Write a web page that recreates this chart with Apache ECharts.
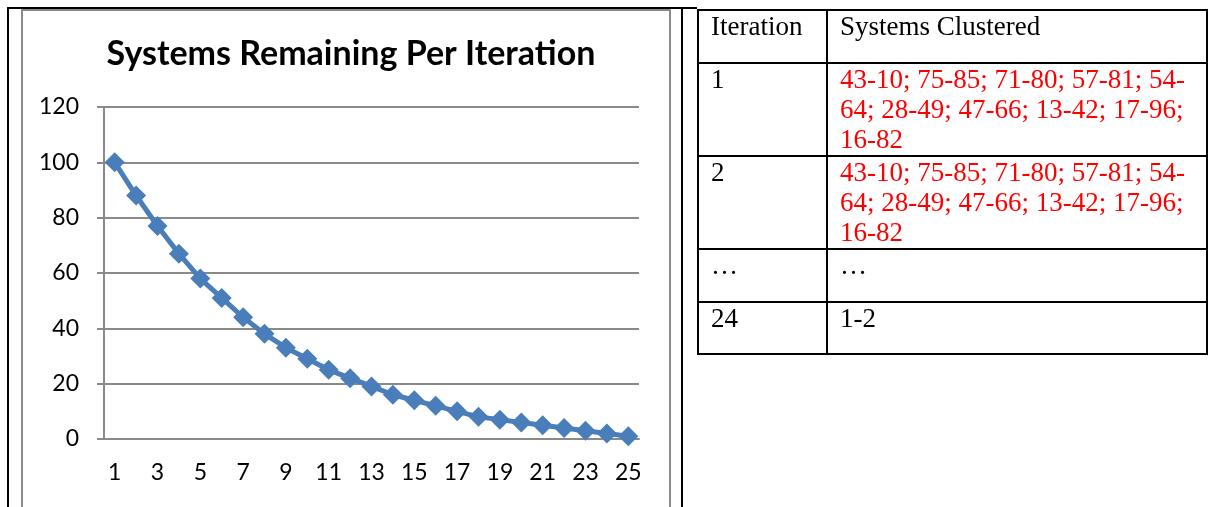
<!DOCTYPE html>
<html>
<head>
<meta charset="utf-8">
<script src="https://cdn.jsdelivr.net/npm/echarts@6/dist/echarts.min.js"></script>
<style>
  html, body { margin: 0; padding: 0; background: #fff; }
  #page { position: relative; width: 1209px; height: 507px; overflow: hidden; }
  #chart { position: absolute; left: 0; top: 0; width: 1209px; height: 507px; }
  .frame { position: absolute; background: #000; }
  #chartBox { position: absolute; left: 21px; top: 9px; width: 646px; height: 510px; border: 2px solid #8a8a8a; }
  #tbl { position: absolute; left: 697px; top: 9px; border-collapse: collapse;
         font-family: "Liberation Serif", "Times New Roman", serif; font-size: 27px; line-height: 30px; }
  #tbl td { border: 2px solid #000; vertical-align: top; padding: 0 0 0 12px; white-space: nowrap; }
  #tbl .c1 { width: 115px; }
  #tbl .c2 { width: 366px; }
  .red { color: #ff0000; }
</style>
</head>
<body>
<div id="page">
  <div class="frame" style="left:7px;top:7px;width:2px;height:500px"></div>
  <div class="frame" style="left:7px;top:7px;width:690px;height:2px"></div>
  <div class="frame" style="left:681px;top:7px;width:2px;height:500px"></div>
  <div id="chartBox"></div>
  <div id="chart"></div>
  <table id="tbl"></table>
</div>
<script>
// chart data
const iterations = ['1','2','3','4','5','6','7','8','9','10','11','12','13',
  '14','15','16','17','18','19','20','21','22','23','24','25'];
const systemsRemaining = [100, 88, 77, 67, 58, 51, 44, 38, 33, 29, 25, 22, 19,
  16, 14, 12, 10, 8, 7, 6, 5, 4, 3, 2, 1];
const yTicks = [0, 20, 40, 60, 80, 100, 120];

// table data
const tableHeader = ['Iteration', 'Systems Clustered'];
const tableIterations = ['1', '2', '…', '24'];
const tableClusters = [
  ['43-10; 75-85; 71-80; 57-81; 54-', '64; 28-49; 47-66; 13-42; 17-96;', '16-82'],
  ['43-10; 75-85; 71-80; 57-81; 54-', '64; 28-49; 47-66; 13-42; 17-96;', '16-82'],
  ['…'],
  ['1-2']
];
const tableRed = [true, true, false, false];
const rowHeights = [53, 93, 93, 53, 52];

// build the table
const tbl = document.getElementById('tbl');
let html = '<tr style="height:' + rowHeights[0] + 'px"><td class="c1">' + tableHeader[0] +
  '</td><td class="c2">' + tableHeader[1] + '</td></tr>';
tableIterations.forEach((it, i) => {
  html += '<tr style="height:' + rowHeights[i + 1] + 'px"><td class="c1">' + it + '</td>' +
    '<td class="c2' + (tableRed[i] ? ' red' : '') + '">' + tableClusters[i].join('<br>') + '</td></tr>';
});
tbl.innerHTML = html;

const chart = echarts.init(document.getElementById('chart'));
const axisFont = { fontFamily: 'Lato', fontSize: 23, color: '#000' };

const option = {
  animation: false,
  title: {
    text: 'Systems Remaining Per Iteration',
    left: 346,
    textAlign: 'center',
    top: 32,
    textStyle: { fontFamily: 'Lato', fontWeight: 'bold', fontSize: 34, color: '#000' }
  },
  grid: { left: 104, right: 570, top: 107, bottom: 68 },
  xAxis: {
    type: 'category',
    data: iterations,
    boundaryGap: true,
    axisLine: { lineStyle: { color: '#8a8a8a', width: 2 } },
    axisTick: { interval: 0, length: 7, lineStyle: { color: '#8a8a8a', width: 2 } },
    axisLabel: Object.assign({ interval: 1, margin: 22 }, axisFont),
    splitLine: { show: false }
  },
  yAxis: {
    type: 'value',
    min: yTicks[0],
    max: yTicks[yTicks.length - 1],
    interval: yTicks[1] - yTicks[0],
    axisLine: { show: true, lineStyle: { color: '#8a8a8a', width: 2 } },
    axisTick: { show: true, length: 7, lineStyle: { color: '#8a8a8a', width: 2 } },
    axisLabel: Object.assign({ margin: 25 }, axisFont),
    splitLine: { lineStyle: { color: '#8a8a8a', width: 2 } }
  },
  series: [{
    type: 'line',
    data: systemsRemaining,
    symbol: 'diamond',
    symbolSize: 20,
    showAllSymbol: true,
    lineStyle: { color: '#4a7ebb', width: 5 },
    itemStyle: { color: '#4a7ebb' }
  }]
};
chart.setOption(option);
</script>
</body>
</html>
